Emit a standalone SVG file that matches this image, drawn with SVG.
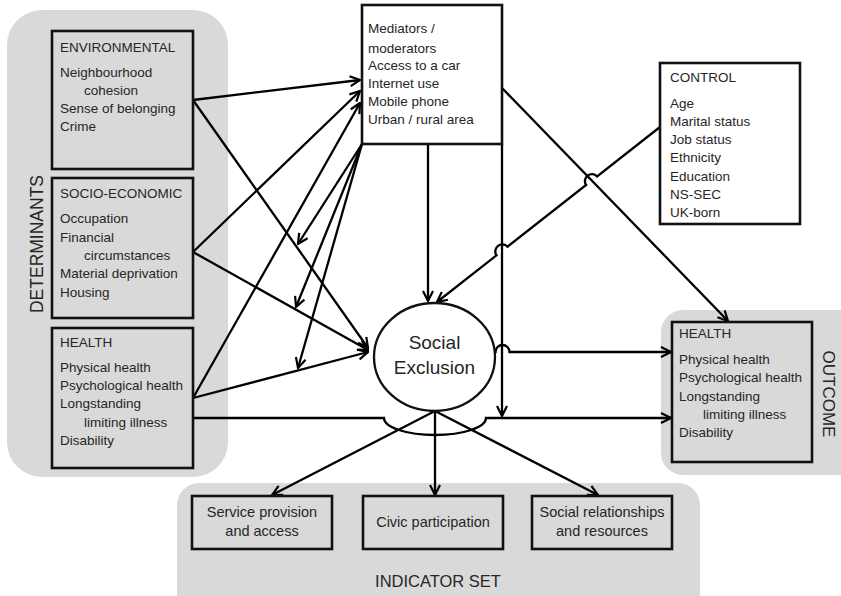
<svg xmlns="http://www.w3.org/2000/svg" width="841" height="596" viewBox="0 0 841 596">
<defs>
<marker id="arr" viewBox="0 0 12 12" refX="11" refY="6" markerWidth="12" markerHeight="12" markerUnits="userSpaceOnUse" orient="auto">
<path d="M1,1 L11,6 L1,11" fill="none" stroke="#000" stroke-width="2.2"/>
</marker>
</defs>
<style>
.bg{fill:#d9d9d9;stroke:none}
.box{fill:#d9d9d9;stroke:#111;stroke-width:2.6}
.wbox{fill:#fff;stroke:#111;stroke-width:2.6}
.t{font-family:"Liberation Sans",Arial,sans-serif;font-size:13.5px;fill:#262626}
.ti{font-family:"Liberation Sans",Arial,sans-serif;font-size:14.5px;fill:#262626;text-anchor:middle}
.big{font-family:"Liberation Sans",Arial,sans-serif;fill:#262626;text-anchor:middle}
.c{fill:none;stroke:#000;stroke-width:2.3}
.ca{fill:none;stroke:#000;stroke-width:2.3;marker-end:url(#arr)}
</style>

<g id="backgrounds">
<rect class="bg" x="7" y="10" width="221" height="467" rx="35"/>
<rect class="bg" x="661" y="310" width="200" height="165" rx="22"/>
<rect class="bg" x="177" y="483" width="523" height="140" rx="22"/>
<text class="big" font-size="17.5" transform="translate(43,244) rotate(-90)">DETERMINANTS</text>
<text class="big" font-size="17" transform="translate(823,394) rotate(90)">OUTCOME</text>
<text class="big" font-size="16.5" x="438" y="587">INDICATOR SET</text>
</g>

<g id="connectors">
<path class="ca" d="M193,100 L360,80"/>
<path class="ca" d="M193,100 L368,348"/>
<path class="ca" d="M193,252 L360,91"/>
<path class="ca" d="M193,252 L368,350"/>
<path class="ca" d="M193,398 L360,103"/>
<path class="ca" d="M193,398 L368,352"/>
<path class="ca" d="M193,418 H384 A51 17 0 0 0 486,418 H671"/>
<path class="ca" d="M362,144 L298,244"/>
<path class="ca" d="M362,144 L296,307"/>
<path class="ca" d="M362,144 L298,368"/>
<path class="ca" d="M428,144 V301"/>
<path class="ca" d="M502,88 L728,321"/>
<path class="ca" d="M502,144 V416"/>
<path class="ca" d="M660,127 L597.1,176.4 A7 7 0 0 0 586.1,185 L507.5,246.7 A7 7 0 0 0 496.5,255.3 L437,302"/>
<path class="ca" d="M494,352 L495.5,352 A7 7 0 0 1 509.5,352 L671,352"/>
<path class="ca" d="M435,411 L272,495"/>
<path class="ca" d="M435,411 V495"/>
<path class="ca" d="M435,411 L598,495"/>
</g>

<g id="environmental">
<rect class="box" x="52" y="31" width="141" height="138"/>
<text class="t" x="60" y="52">ENVIRONMENTAL</text>
<text class="t" x="60" y="77">Neighbourhood</text>
<text class="t" x="84" y="95">cohesion</text>
<text class="t" x="60" y="113">Sense of belonging</text>
<text class="t" x="60" y="131">Crime</text>
</g>

<g id="socio-economic">
<rect class="box" x="52" y="178" width="141" height="140"/>
<text class="t" x="60" y="198">SOCIO-ECONOMIC</text>
<text class="t" x="60" y="223">Occupation</text>
<text class="t" x="60" y="242">Financial</text>
<text class="t" x="84" y="260">circumstances</text>
<text class="t" x="60" y="278">Material deprivation</text>
<text class="t" x="60" y="297">Housing</text>
</g>

<g id="health-determinant">
<rect class="box" x="52" y="328" width="141" height="140"/>
<text class="t" x="60" y="347">HEALTH</text>
<text class="t" x="60" y="372">Physical health</text>
<text class="t" x="60" y="390">Psychological health</text>
<text class="t" x="60" y="408">Longstanding</text>
<text class="t" x="84" y="427">limiting illness</text>
<text class="t" x="60" y="445">Disability</text>
</g>

<g id="mediators">
<rect class="wbox" x="362" y="5" width="140" height="139"/>
<text class="t" x="368" y="33">Mediators /</text>
<text class="t" x="368" y="53">moderators</text>
<text class="t" x="368" y="70">Access to a car</text>
<text class="t" x="368" y="88">Internet use</text>
<text class="t" x="368" y="106">Mobile phone</text>
<text class="t" x="368" y="124">Urban / rural area</text>
</g>

<g id="control">
<rect class="wbox" x="660" y="63" width="140" height="161"/>
<text class="t" x="670" y="82">CONTROL</text>
<text class="t" x="670" y="108">Age</text>
<text class="t" x="670" y="126">Marital status</text>
<text class="t" x="670" y="144">Job status</text>
<text class="t" x="670" y="162">Ethnicity</text>
<text class="t" x="670" y="181">Education</text>
<text class="t" x="670" y="199">NS-SEC</text>
<text class="t" x="670" y="217">UK-born</text>
</g>

<g id="social-exclusion">
<ellipse cx="434.5" cy="357" rx="60.5" ry="54" fill="#fff" stroke="#111" stroke-width="2.3"/>
<text class="big" font-size="19" x="434.5" y="349">Social</text>
<text class="big" font-size="19" x="434.5" y="374">Exclusion</text>
</g>

<g id="health-outcome">
<rect class="box" x="672" y="322" width="140" height="140"/>
<text class="t" x="679" y="338">HEALTH</text>
<text class="t" x="679" y="364">Physical health</text>
<text class="t" x="679" y="382">Psychological health</text>
<text class="t" x="679" y="401">Longstanding</text>
<text class="t" x="703" y="419">limiting illness</text>
<text class="t" x="679" y="437">Disability</text>
</g>

<g id="service-provision">
<rect class="box" x="192" y="496" width="140" height="53"/>
<text class="ti" x="262" y="517">Service provision</text>
<text class="ti" x="262" y="536">and access</text>
</g>

<g id="civic-participation">
<rect class="box" x="363" y="496" width="140" height="53"/>
<text class="ti" x="433" y="527">Civic participation</text>
</g>

<g id="social-relationships">
<rect class="box" x="532" y="496" width="140" height="53"/>
<text class="ti" x="602" y="517">Social relationships</text>
<text class="ti" x="602" y="536">and resources</text>
</g>
</svg>
